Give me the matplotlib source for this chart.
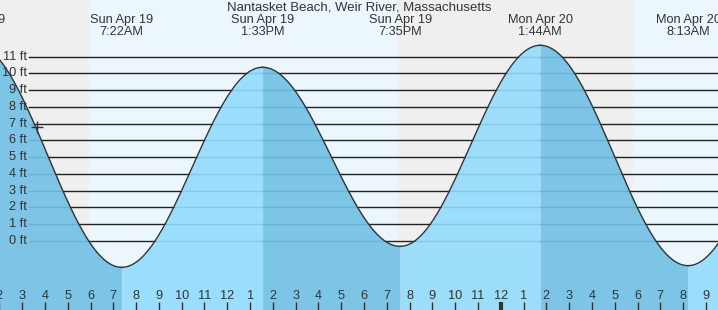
import numpy as np
import matplotlib
matplotlib.use("Agg")
import matplotlib.pyplot as plt

plt.rcParams['font.family'] = ['Liberation Sans', 'DejaVu Sans']

# ---- data ----
title = "Nantasket Beach, Weir River, Massachusetts"
# tide extremes: hours since Sun Apr 19 00:00
extreme_hours = [0.87, 7.367, 13.55, 19.583, 25.733, 32.217, 38.3]
extreme_feet = [11.8, -1.57, 10.36, -0.32, 11.67, -1.47, 10.3]
extreme_labels = [("Sun Apr 19", "12:52AM"), ("Sun Apr 19", "7:22AM"),
                  ("Sun Apr 19", "1:33PM"), ("Sun Apr 19", "7:35PM"),
                  ("Mon Apr 20", "1:44AM"), ("Mon Apr 20", "8:13AM"),
                  ("Mon Apr 20", "2:20PM")]
sun_events = [5.93, 19.45, 29.82]   # sunrise, sunset, sunrise (hours)
now_hour = 3.65
now_feet = 6.8
ft_levels = list(range(0, 12))
hour_ticks = list(range(2, 34))

# ---- layout calibration (pixel geometry of reference) ----
W, H = 718, 310
px_per_hour = 22.79
x0_hour = 2.027
px_per_ft = 16.77
y0_px = 241.0   # pixel row of 0 ft
xmin, xmax = x0_hour, x0_hour + W / px_per_hour
ytop = y0_px / px_per_ft
ybot = (y0_px - H) / px_per_ft

FS = 9.2

fig = plt.figure(figsize=(W / 100, H / 100), dpi=100)
ax = fig.add_axes([0, 0, 1, 1])
ax.set_xlim(xmin, xmax)
ax.set_ylim(ybot, ytop)
ax.axis('off')

night = '#efefef'
day = '#ebf6fd'
light_water = '#93dbfc'
dark_water = '#71c0e5'

# day / night bands
bounds = [xmin - 5] + sun_events + [xmax + 5]
for i in range(len(bounds) - 1):
    ax.axvspan(bounds[i], bounds[i + 1], color=night if i % 2 == 0 else day,
               lw=0, zorder=0)

# horizontal foot lines
line_start_frac = 29 / W
for f in ft_levels:
    ax.axhline(f, xmin=line_start_frac, xmax=1, color='#222222', lw=1.0, zorder=1)
    ax.text(xmin + 27 / px_per_hour, f, f"{f} ft", ha='right', va='center',
            fontsize=FS, color='#333333', zorder=5)

# tide curve (cosine between extremes)
def tide(t):
    eh = np.array(extreme_hours)
    ef = np.array(extreme_feet)
    out = np.empty_like(t)
    for i in range(len(eh) - 1):
        m = (t >= eh[i]) & (t <= eh[i + 1])
        frac = (t[m] - eh[i]) / (eh[i + 1] - eh[i])
        out[m] = ef[i + 1] + (ef[i] - ef[i + 1]) * (1 + np.cos(np.pi * frac)) / 2
    return out

for i in range(len(extreme_hours) - 1):
    a, b = extreme_hours[i], extreme_hours[i + 1]
    t = np.linspace(a, b, 300)
    h = tide(t)
    falling = extreme_feet[i] > extreme_feet[i + 1]
    ax.fill_between(t, ybot, h, color=dark_water if falling else light_water,
                    lw=0, alpha=0.9, zorder=2)
    ax.plot(t, h, color='#333333', lw=1.0, zorder=3)

# current time marker
ax.plot([now_hour], [now_feet], marker='+', ms=9, mew=1.0, color='#333333', zorder=4)

# hour ticks and labels
tick_top = (y0_px - 302) / px_per_ft
lab_y = (y0_px - 296) / px_per_ft
for hr in hour_ticks:
    h12 = hr % 12
    lab = str(12 if h12 == 0 else h12)
    ax.text(hr, lab_y, lab, ha='center', va='center', fontsize=FS,
            color='#333333', zorder=5)
    lw = 3.0 if hr % 24 == 0 else 1.0
    ax.plot([hr, hr], [ybot, tick_top], color='#333333', lw=lw, zorder=5,
            solid_capstyle='butt')

# extreme labels
y_line1 = (y0_px - 20) / px_per_ft
y_line2 = (y0_px - 32) / px_per_ft
for t, (d, tm) in zip(extreme_hours, extreme_labels):
    ax.text(t, y_line1, d, ha='center', va='center', fontsize=FS, color='#333333', zorder=6)
    ax.text(t, y_line2, tm, ha='center', va='center', fontsize=FS, color='#333333', zorder=6)

# title
fig.text(0.5, 1 - 7 / H, title, ha='center', va='center', fontsize=9.5, color='#333333')

fig.savefig("out.png", dpi=100)
